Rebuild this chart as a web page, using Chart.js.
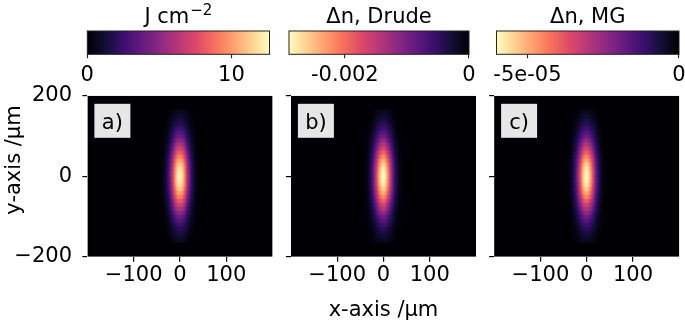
<!DOCTYPE html>
<html>
<head>
<meta charset="utf-8">
<script src="https://cdn.jsdelivr.net/npm/chart.js@4.4.1/dist/chart.umd.min.js"></script>
<style>
  html, body { margin: 0; padding: 0; background: #fff; }
  #wrap { position: relative; width: 685px; height: 323px; overflow: hidden; }
  #wrap canvas { position: absolute; left: 0; top: 0; }
</style>
</head>
<body>
<div id="wrap">
  <canvas id="heatA" width="685" height="323"></canvas>
  <canvas id="heatB" width="685" height="323"></canvas>
  <canvas id="heatC" width="685" height="323"></canvas>
  <canvas id="cbA" width="685" height="323"></canvas>
  <canvas id="cbB" width="685" height="323"></canvas>
  <canvas id="cbC" width="685" height="323"></canvas>
</div>
<script>
// spot profile (relative to peak)
const xPos = [-40, -37.5, -35, -32.5, -30, -27.5, -25, -22.5, -20, -17.5, -15, -12.5, -10, -7.5, -5, -2.5, 0,
              2.5, 5, 7.5, 10, 12.5, 15, 17.5, 20, 22.5, 25, 27.5, 30, 32.5, 35, 37.5, 40];
const xProfile = [0.02, 0.03, 0.04, 0.07, 0.10, 0.15, 0.20, 0.28, 0.36, 0.46, 0.56, 0.67, 0.78, 0.87, 0.94, 0.98, 1.00,
                  0.98, 0.94, 0.87, 0.78, 0.67, 0.56, 0.46, 0.36, 0.28, 0.20, 0.15, 0.10, 0.07, 0.04, 0.03, 0.02];
const yPos = [-160, -150, -140, -130, -120, -110, -100, -90, -80, -70, -60, -50, -40, -30, -20, -10, 0,
              10, 20, 30, 40, 50, 60, 70, 80, 90, 100, 110, 120, 130, 140, 150, 160];
const yProfile = [0.06, 0.09, 0.12, 0.16, 0.21, 0.27, 0.33, 0.41, 0.50, 0.58, 0.67, 0.76, 0.84, 0.91, 0.96, 0.99, 1.00,
                  0.99, 0.96, 0.91, 0.84, 0.76, 0.67, 0.58, 0.50, 0.41, 0.33, 0.27, 0.21, 0.16, 0.12, 0.09, 0.06];

// peak value of each panel: fluence (J cm^-2), Drude dn, MG dn
const peakValues = [12.6, -0.0029, -6.0e-5];
const panelLetters = ['a)', 'b)', 'c)'];

// colorbars
const cbTitles = ['J cm', 'Δn, Drude', 'Δn, MG'];
const cbTitleSup = ['−2', '', ''];
const cbMin = [0, -0.0029, -6.02e-5];
const cbMax = [12.64, 0, 0];
const cbReversed = [false, true, true];
const cbTicks = [[0, 10], [-0.002, 0], [-5e-5, 0]];
const cbTickLabels = [['0', '10'], ['-0.002', '0'], ['-5e-05', '0']];

// axes
const xTicks = [-100, 0, 100];
const xTickLabels = ['−100', '0', '100'];
const yTicks = [-200, 0, 200];
const yTickLabels = ['−200', '0', '200'];

const W = 685, H = 323;
const FONT = "'DejaVu Sans', sans-serif";
Chart.defaults.font.family = FONT;
Chart.defaults.font.size = 21;
Chart.defaults.color = '#000';

const magmaStops = ['#000004', '#140e36', '#3b0f70', '#641a80', '#8c2981', '#b73779',
                    '#de4968', '#f7705c', '#fe9f6d', '#fecf92', '#fcfdbf'];
const magmaRGB = magmaStops.map(h => [1, 3, 5].map(k => parseInt(h.substr(k, 2), 16)));
function magma(t) {
  t = Math.max(0, Math.min(1, t));
  const p = t * 10;
  const i = Math.min(9, Math.floor(p));
  const f = p - i;
  const a = magmaRGB[i], b = magmaRGB[i + 1];
  return 'rgb(' + a.map((c, k) => Math.round(c + (b[k] - c) * f)).join(',') + ')';
}
function colorFor(idx, v) {
  let t = (v - cbMin[idx]) / (cbMax[idx] - cbMin[idx]);
  return magma(cbReversed[idx] ? 1 - t : t);
}

function heatPlugin(idx, extra) {
  return {
    id: 'heat' + idx,
    beforeDatasetsDraw(chart) {
      const {ctx, chartArea: a, scales: {x: xs, y: ys}} = chart;
      const dx = xPos[1] - xPos[0], dy = yPos[1] - yPos[0];
      ctx.save();
      ctx.beginPath();
      ctx.rect(a.left, a.top, a.right - a.left, a.bottom - a.top);
      ctx.clip();
      ctx.fillStyle = magma(0);
      ctx.fillRect(a.left, a.top, a.right - a.left, a.bottom - a.top);
      chart.data.datasets[0].data.forEach(c => {
        const x0 = xs.getPixelForValue(c.x - dx / 2), x1 = xs.getPixelForValue(c.x + dx / 2);
        const y0 = ys.getPixelForValue(c.y + dy / 2), y1 = ys.getPixelForValue(c.y - dy / 2);
        ctx.fillStyle = colorFor(idx, c.v);
        ctx.fillRect(x0 - 0.3, y0 - 0.3, x1 - x0 + 0.6, y1 - y0 + 0.6);
      });
      ctx.restore();
    },
    afterDraw(chart) {
      const {ctx, chartArea: a} = chart;
      ctx.save();
      ctx.fillStyle = '#e6e6e6';
      ctx.fillRect(a.left + 7, a.top + 8, 36, 34);
      ctx.fillStyle = '#000';
      ctx.font = '21px ' + FONT;
      ctx.textAlign = 'center';
      ctx.textBaseline = 'alphabetic';
      ctx.fillText(panelLetters[idx], a.left + 25, a.top + 33);
      if (extra === 'ylabel') {
        ctx.translate(20, 160);
        ctx.rotate(-Math.PI / 2);
        ctx.fillText('y-axis /µm', 0, 0);
      }
      if (extra === 'xlabel') {
        ctx.fillText('x-axis /µm', (a.left + a.right) / 2, 316);
      }
      ctx.restore();
    }
  };
}

function makePanel(id, idx, box, showYLabels, extra) {
  const peak = peakValues[idx];
  const cells = [];
  yPos.forEach((y, j) => xPos.forEach((x, i) => cells.push({x: x, y: y, v: peak * xProfile[i] * yProfile[j]})));
  const yAxisW = showYLabels ? box.left : 60;
  return new Chart(document.getElementById(id), {
    type: 'scatter',
    data: { datasets: [{ data: cells, pointRadius: 0, pointHoverRadius: 0 }] },
    options: {
      responsive: false, animation: false, events: [],
      layout: { padding: { left: box.left - yAxisW, right: W - box.right, top: box.top, bottom: 0 } },
      plugins: { legend: { display: false }, tooltip: { enabled: false } },
      scales: {
        x: {
          type: 'linear', min: -200, max: 200,
          afterBuildTicks: s => { s.ticks = xTicks.map(v => ({value: v})); },
          ticks: { autoSkip: false, maxRotation: 0, padding: 3.5, font: { lineHeight: 1 },
                   callback: v => xTickLabels[xTicks.indexOf(v)] },
          grid: { drawOnChartArea: false, drawTicks: true, tickLength: 5, color: '#000', lineWidth: 1.2 },
          border: { display: false },
          afterFit: s => { s.height = H - box.bottom; s.paddingLeft = 0; s.paddingRight = 0; }
        },
        y: {
          type: 'linear', min: -200, max: 200,
          afterBuildTicks: s => { s.ticks = yTicks.map(v => ({value: v})); },
          ticks: { autoSkip: false, padding: 10.4, font: { lineHeight: 1 },
                   callback: v => showYLabels ? yTickLabels[yTicks.indexOf(v)] : '' },
          grid: { drawOnChartArea: false, drawTicks: true, tickLength: 5, color: '#000', lineWidth: 1.2 },
          border: { display: false },
          afterFit: s => { s.width = yAxisW; s.paddingTop = 0; s.paddingBottom = 0; }
        }
      }
    },
    plugins: [heatPlugin(idx, extra)]
  });
}

function colorbarPlugin(idx) {
  return {
    id: 'cb' + idx,
    beforeDatasetsDraw(chart) {
      const {ctx, chartArea: a, scales: {x: xs}} = chart;
      const p0 = xs.getPixelForValue(cbMin[idx]), p1 = xs.getPixelForValue(cbMax[idx]);
      const g = ctx.createLinearGradient(p0, 0, p1, 0);
      for (let k = 0; k <= 20; k++) {
        const t = k / 20;
        g.addColorStop(t, magma(cbReversed[idx] ? 1 - t : t));
      }
      ctx.save();
      ctx.fillStyle = g;
      ctx.fillRect(a.left, a.top, a.right - a.left, a.bottom - a.top);
      ctx.strokeStyle = '#222';
      ctx.lineWidth = 1;
      ctx.strokeRect(a.left, a.top, a.right - a.left, a.bottom - a.top);
      // title
      const cx = (a.left + a.right) / 2, by = 23;
      ctx.fillStyle = '#000';
      ctx.textBaseline = 'alphabetic';
      ctx.textAlign = 'left';
      ctx.font = '21px ' + FONT;
      const w1 = ctx.measureText(cbTitles[idx]).width;
      let w2 = 0;
      if (cbTitleSup[idx]) {
        ctx.font = '15px ' + FONT;
        w2 = ctx.measureText(cbTitleSup[idx]).width + 1;
      }
      const sx = cx - (w1 + w2) / 2;
      ctx.font = '21px ' + FONT;
      ctx.fillText(cbTitles[idx], sx, by);
      if (cbTitleSup[idx]) {
        ctx.font = '15px ' + FONT;
        ctx.fillText(cbTitleSup[idx], sx + w1 + 1, by - 8);
      }
      ctx.restore();
    }
  };
}

function makeColorbar(id, idx, box) {
  return new Chart(document.getElementById(id), {
    type: 'scatter',
    data: { datasets: [{ data: [], pointRadius: 0 }] },
    options: {
      responsive: false, animation: false, events: [],
      layout: { padding: { left: box.left, right: W - box.right, top: box.top, bottom: 0 } },
      plugins: { legend: { display: false }, tooltip: { enabled: false } },
      scales: {
        x: {
          type: 'linear', min: cbMin[idx], max: cbMax[idx],
          afterBuildTicks: s => { s.ticks = cbTicks[idx].map(v => ({value: v})); },
          ticks: { autoSkip: false, maxRotation: 0, padding: 6.7, font: { lineHeight: 1 },
                   callback: v => cbTickLabels[idx][cbTicks[idx].indexOf(v)] },
          grid: { drawOnChartArea: false, drawTicks: true, tickLength: 4, color: '#222', lineWidth: 1.1 },
          border: { display: false },
          afterFit: s => { s.height = H - box.bottom; s.paddingLeft = 0; s.paddingRight = 0; }
        },
        y: { display: false, min: 0, max: 1 }
      }
    },
    plugins: [colorbarPlugin(idx)]
  });
}

makePanel('heatA', 0, {left: 87.4, right: 272.6, top: 95.8, bottom: 256.8}, true, 'ylabel');
makePanel('heatB', 1, {left: 290.9, right: 476.1, top: 95.8, bottom: 256.8}, false, 'xlabel');
makePanel('heatC', 2, {left: 494.1, right: 679.3, top: 95.8, bottom: 256.8}, false, '');

makeColorbar('cbA', 0, {left: 87.3, right: 269.5, top: 31, bottom: 54.3});
makeColorbar('cbB', 1, {left: 289, right: 469, top: 31, bottom: 54.3});
makeColorbar('cbC', 2, {left: 496.5, right: 679, top: 31, bottom: 54.3});
</script>
</body>
</html>
